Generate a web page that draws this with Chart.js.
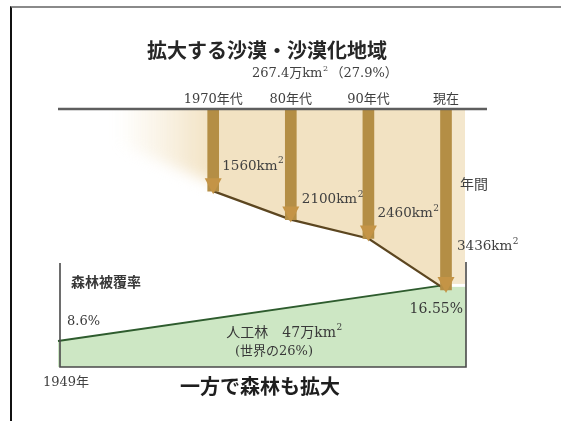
<!DOCTYPE html>
<html><head><meta charset="utf-8">
<script src="https://cdn.jsdelivr.net/npm/chart.js@4.4.0/dist/chart.umd.min.js"></script>
<style>
html,body{margin:0;padding:0;background:#fff;}
#wrap{position:relative;width:561px;height:421px;overflow:hidden;background:#fff;}
#frame{position:absolute;left:10px;top:6px;right:-4px;bottom:-4px;border-top:2px solid #8a8a8a;border-left:2px solid #111;pointer-events:none;}
canvas{position:absolute;left:0;top:0;}
</style></head><body>
<div id="wrap"><canvas id="c" width="561" height="421"></canvas><div id="frame"></div></div>
<script>
// ---- data ----
const categories = ['1949年', '', '1970年代', '80年代', '90年代', '現在'];
const desertRate = [null, null, 1560, 2100, 2460, 3436];          // km² per year
const desertRateLabels = ['', '', '1560km', '2100km', '2460km', '3436km'];
const forestCover = [8.6, null, null, null, null, 16.55];          // %
const forestCoverLabels = ['8.6%', '', '', '', '', '16.55%'];
const titleText = '拡大する沙漠・沙漠化地域';
const subtitleText = '267.4万km';
const subtitleTail = '（27.9%）';
const forestTitle = '一方で森林も拡大';
const forestAxisLabel = '森林被覆率';
const plantationText = '人工林　47万km';
const plantationShare = '(世界の26%)';
const perYearText = '年間';

const SERIF = "'DejaVu Serif','Liberation Serif','Noto Sans CJK JP',serif";
const SANS = "'Noto Sans CJK JP','Noto Sans',sans-serif";
const TAN = 'rgb(242,226,194)';

function supText(ctx, base, sup, x, y, size, align) {
  ctx.font = size + 'px ' + SERIF;
  const w = ctx.measureText(base).width;
  ctx.font = Math.round(size * 0.65) + 'px ' + SERIF;
  const ws = ctx.measureText(sup).width;
  let x0 = x;
  if (align === 'center') x0 = x - (w + ws) / 2;
  if (align === 'right') x0 = x - (w + ws);
  ctx.textAlign = 'left';
  ctx.textBaseline = 'middle';
  ctx.font = size + 'px ' + SERIF;
  ctx.fillText(base, x0, y);
  ctx.font = Math.round(size * 0.65) + 'px ' + SERIF;
  ctx.fillText(sup, x0 + w + 0.5, y - size * 0.38);
  return x0 + w + ws;
}

const deco = {
  id: 'deco',
  beforeDatasetsDraw(chart) {
    const ctx = chart.ctx, xs = chart.scales.x, ys = chart.scales.y;
    const top = chart.chartArea.top;
    const xA = xs.getPixelForValue(2), yA = ys.getPixelForValue(desertRate[2]);
    const xN = xs.getPixelForValue(5), yN = ys.getPixelForValue(desertRate[5]);
    ctx.save();
    // fading tan area to the left of 1970s
    ctx.save();
    ctx.beginPath();
    ctx.rect(0, top + 1, xA + 2, 200);
    ctx.clip();
    ctx.filter = 'blur(7px)';
    const g = ctx.createLinearGradient(xA - 95, 0, xA, 0);
    g.addColorStop(0, 'rgba(242,226,194,0)');
    g.addColorStop(0.55, 'rgba(242,226,194,0.5)');
    g.addColorStop(1, 'rgba(242,226,194,1)');
    ctx.fillStyle = g;
    ctx.beginPath();
    ctx.moveTo(xA - 100, top - 20);
    ctx.lineTo(xA + 10, top - 20);
    ctx.lineTo(xA + 10, yA - 4);
    ctx.lineTo(xA - 100, yA - 50);
    ctx.closePath();
    ctx.fill();
    ctx.restore();
    // tan strip right of the last arrow
    ctx.fillStyle = 'rgb(244,231,205)';
    ctx.fillRect(xN, top, 19, yN - top - 6);
    // green extension to the right axis
    const y2 = chart.scales.y2;
    const yF = y2.getPixelForValue(forestCover[5]);
    ctx.fillStyle = 'rgb(205,231,196)';
    ctx.fillRect(xN, yF + 2, 20, chart.chartArea.bottom - yF - 2);
    ctx.restore();
  },
  afterDatasetsDraw(chart) {
    const ctx = chart.ctx, xs = chart.scales.x, ys = chart.scales.y, y2 = chart.scales.y2;
    const ca = chart.chartArea;
    const xN = xs.getPixelForValue(5);
    ctx.save();
    // arrowheads
    const meta = chart.getDatasetMeta(2);
    meta.data.forEach((el, i) => {
      if (desertRate[i] == null) return;
      ctx.fillStyle = 'rgb(196,148,70)';
      ctx.beginPath();
      ctx.moveTo(el.x - 8.5, el.y - 13);
      ctx.lineTo(el.x + 8.5, el.y - 13);
      ctx.lineTo(el.x, el.y + 3);
      ctx.closePath();
      ctx.fill();
    });
    // top axis line
    ctx.strokeStyle = '#5e5e5e';
    ctx.lineWidth = 2.5;
    ctx.beginPath();
    ctx.moveTo(ca.left, ca.top);
    ctx.lineTo(xN + 41, ca.top);
    ctx.stroke();
    // lower box
    ctx.strokeStyle = '#4a4a4a';
    ctx.lineWidth = 1.6;
    ctx.beginPath();
    ctx.moveTo(ca.left + 2, 263);
    ctx.lineTo(ca.left + 2, ca.bottom);
    ctx.lineTo(xN + 20, ca.bottom);
    ctx.lineTo(xN + 20, 262);
    ctx.stroke();

    // titles
    ctx.fillStyle = '#262626';
    ctx.textBaseline = 'middle';
    ctx.textAlign = 'left';
    ctx.font = 'bold 20px ' + SANS;
    ctx.fillText(titleText, 147, 50);
    ctx.fillStyle = '#404040';
    const e = supText(ctx, subtitleText, '2', 252, 74, 13, 'left');
    ctx.font = '13px ' + SERIF;
    ctx.fillText(subtitleTail, e + 3, 74);

    // desert rate labels
    ctx.fillStyle = '#404040';
    const offs = [null, null, [9, -25], [11, -20], [9, -25], [11, -43]];
    meta.data.forEach((el, i) => {
      if (desertRate[i] == null) return;
      supText(ctx, desertRateLabels[i], '2', el.x + offs[i][0], ys.getPixelForValue(desertRate[i]) + offs[i][1], 13.5, 'left');
    });
    ctx.font = '14px ' + SERIF;
    ctx.textAlign = 'left';
    ctx.fillText(perYearText, xN + 14, 185);

    // forest labels
    ctx.fillStyle = '#383838';
    ctx.font = 'bold 14px ' + SANS;
    ctx.fillText(forestAxisLabel, ca.left + 13, 282);
    ctx.font = '13px ' + SERIF;
    ctx.fillText(forestCoverLabels[0], ca.left + 9, y2.getPixelForValue(forestCover[0]) - 19);
    ctx.textAlign = 'right';
    ctx.font = '14px ' + SERIF;
    ctx.fillText(forestCoverLabels[5], xN + 17, y2.getPixelForValue(forestCover[5]) + 24);
    supText(ctx, plantationText, '2', 284, 333, 14, 'center');
    ctx.textAlign = 'center';
    ctx.font = '13px ' + SERIF;
    ctx.fillText(plantationShare, 274, 352);
    ctx.fillStyle = '#1e1e1e';
    ctx.font = 'bold 20px ' + SANS;
    ctx.textAlign = 'left';
    ctx.fillText(forestTitle, 180, 386);
    ctx.restore();
  }
};

new Chart(document.getElementById('c'), {
  type: 'bar',
  data: {
    labels: categories,
    datasets: [
      {
        type: 'line', label: '森林被覆率', data: forestCover, yAxisID: 'y2', xAxisID: 'x',
        borderColor: 'rgb(46,92,46)', borderWidth: 2, backgroundColor: 'rgb(205,231,196)',
        fill: 'start', spanGaps: true, pointRadius: 0, tension: 0, order: 5, clip: false
      },
      {
        type: 'line', label: '沙漠化', data: desertRate, yAxisID: 'y', xAxisID: 'x',
        borderColor: 'rgb(92,70,32)', borderWidth: 2.2, backgroundColor: TAN,
        fill: 'origin', pointRadius: 0, tension: 0, order: 4, clip: false
      },
      {
        type: 'bar', label: '年間', data: desertRate, yAxisID: 'y', xAxisID: 'x',
        backgroundColor: 'rgb(180,142,69)', barThickness: 11, order: 1, clip: false
      }
    ]
  },
  options: {
    responsive: false,
    animation: false,
    layout: { padding: { left: 58, right: 115, top: 87, bottom: 32 } },
    plugins: { legend: { display: false }, tooltip: { enabled: false } },
    scales: {
      x: {
        type: 'category', position: 'top', offset: false,
        grid: { display: false, drawTicks: false }, border: { display: false },
        ticks: {
          autoSkip: false, maxRotation: 0, padding: 2, color: '#404040',
          font: { size: 13, family: SERIF },
          callback: (v, i) => (i === 0 ? '' : categories[i])
        },
        afterFit: s => { s.height = 22; }
      },
      xb: {
        type: 'category', position: 'bottom', offset: false,
        grid: { display: false, drawTicks: false }, border: { display: false },
        ticks: {
          autoSkip: false, maxRotation: 0, padding: 8, labelOffset: 8, color: '#404040',
          font: { size: 13, family: SERIF },
          callback: (v, i) => (i === 0 ? categories[i] : '')
        },
        afterFit: s => { s.height = 22; }
      },
      y: { display: false, reverse: true, min: 0, max: 4900 },
      y2: { display: false, min: 4.9, max: 41.5 }
    }
  },
  plugins: [deco]
});
</script>
</body></html>
